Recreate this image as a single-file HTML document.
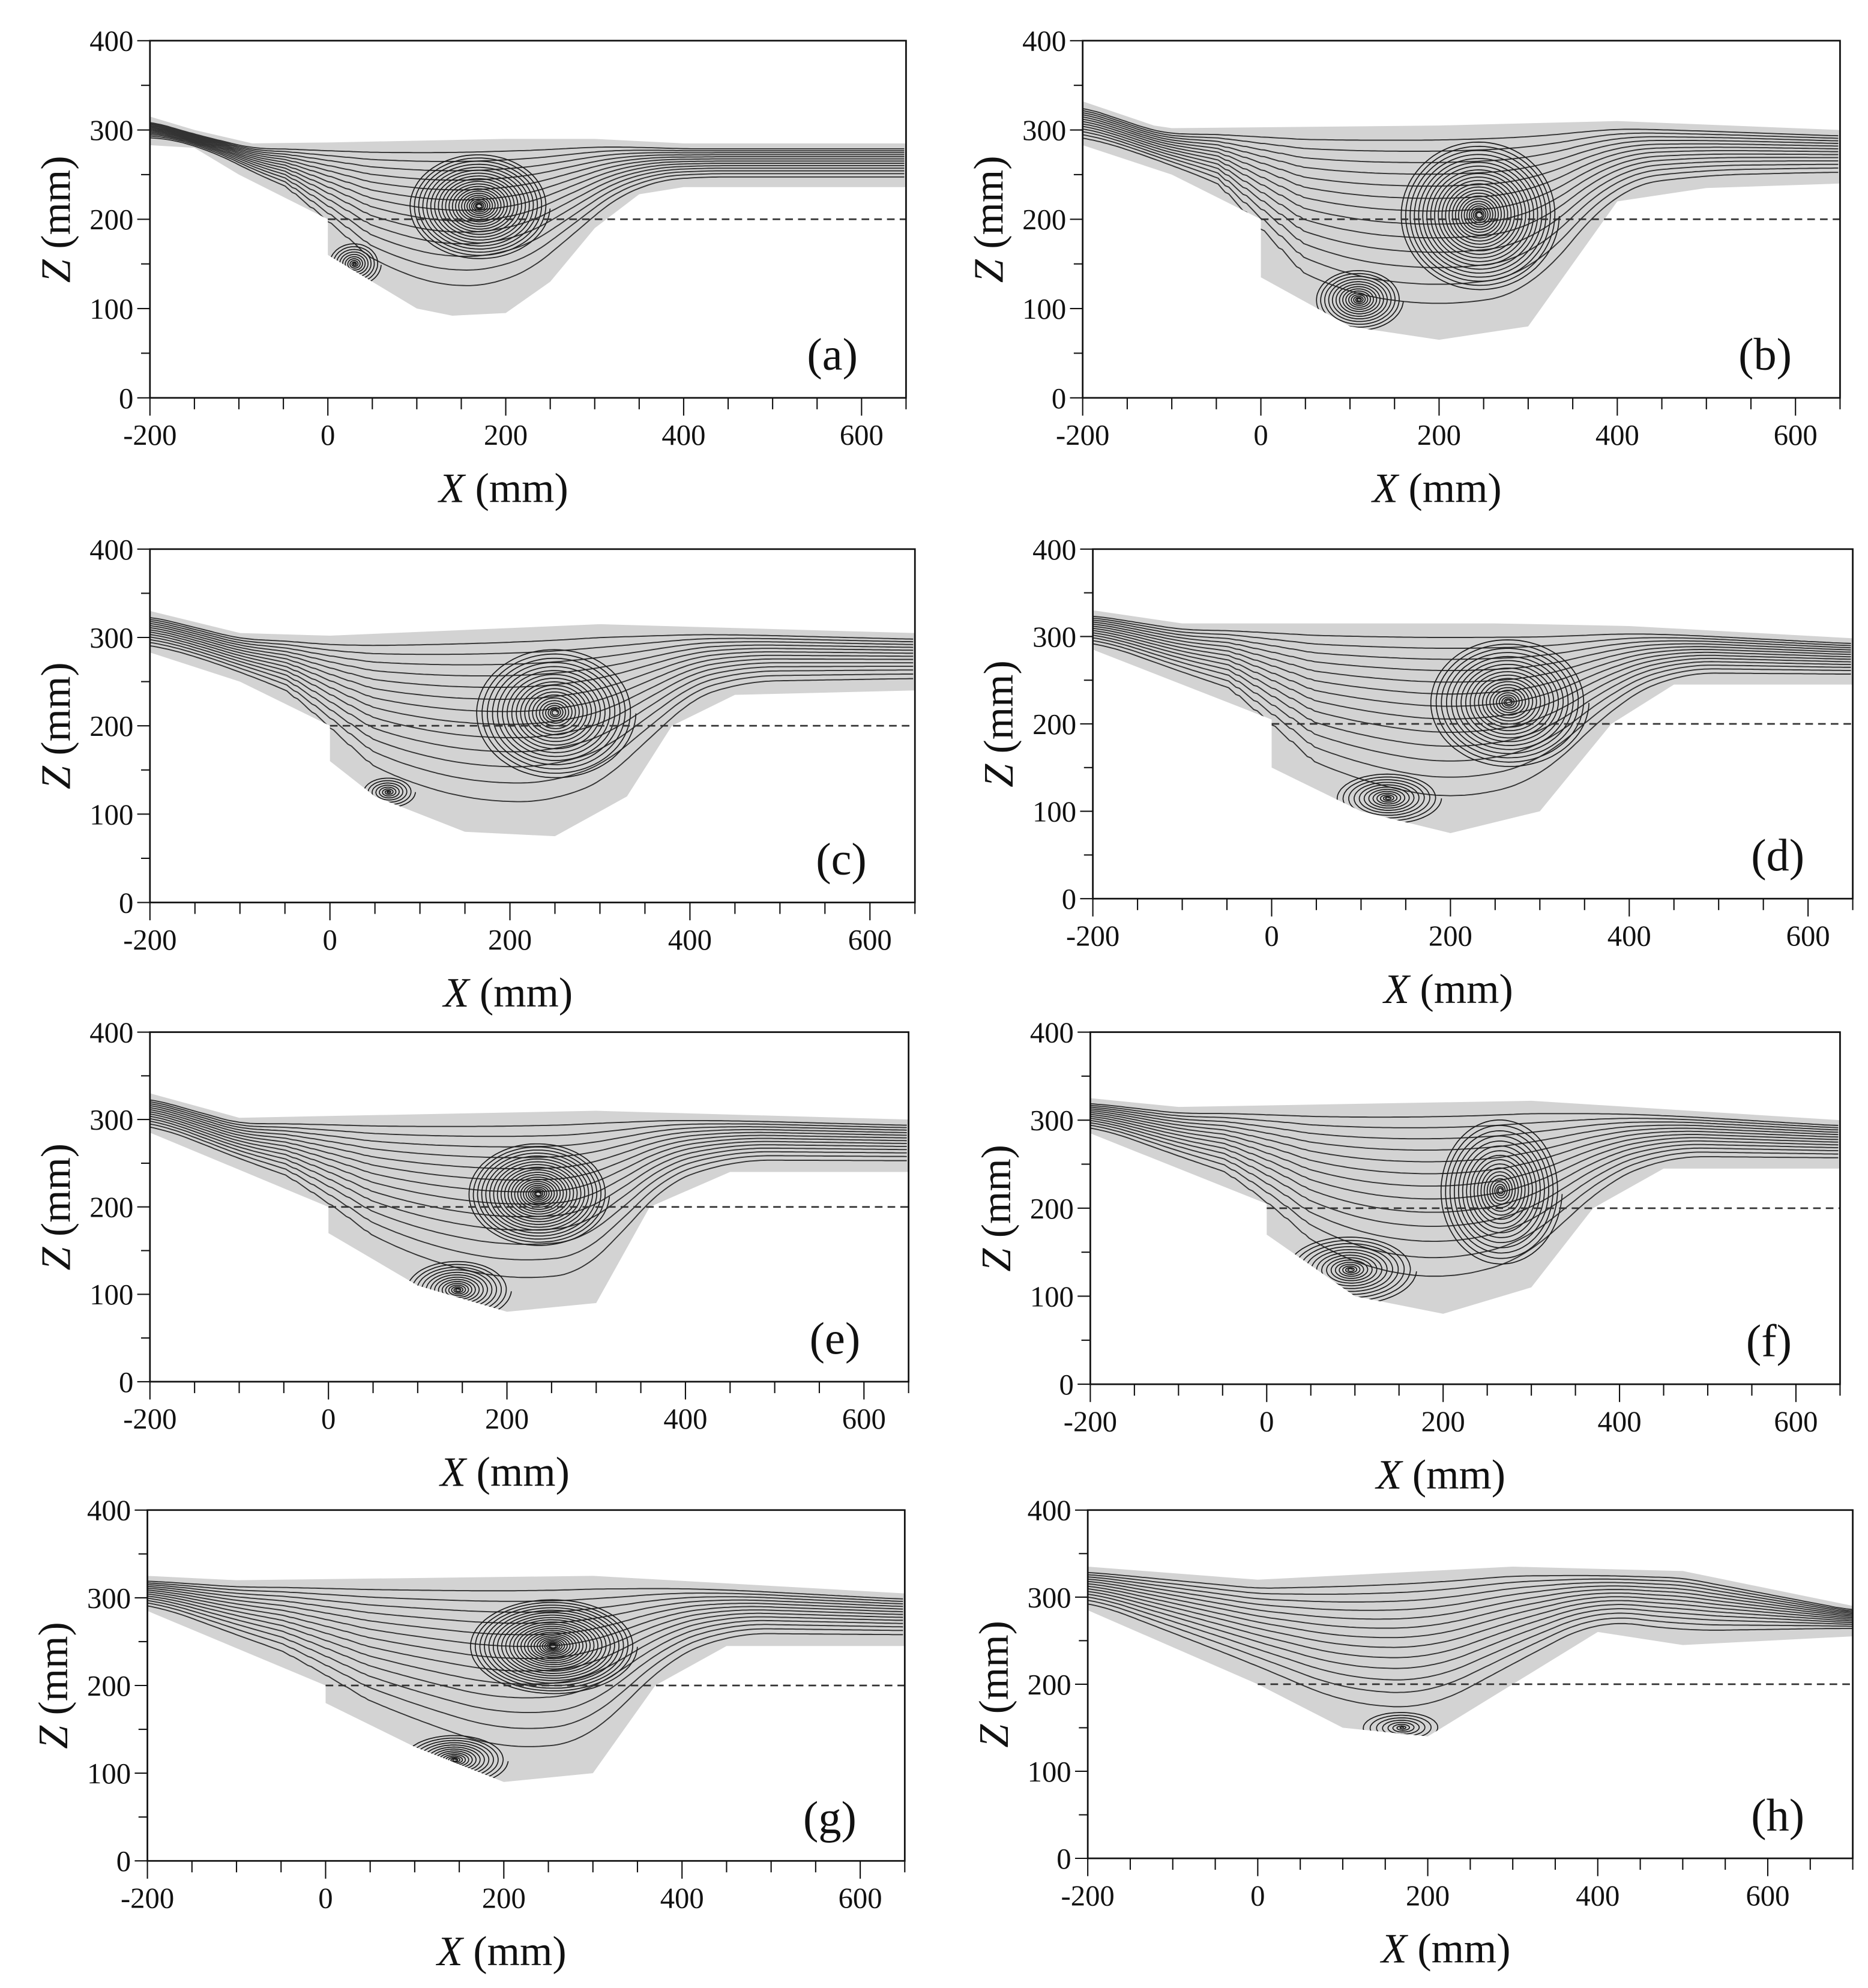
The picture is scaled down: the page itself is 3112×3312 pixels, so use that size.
<!DOCTYPE html>
<html><head><meta charset="utf-8">
<style>
html,body{margin:0;padding:0;background:#fff;}
svg{display:block;}
text{font-family:"Liberation Serif",serif;fill:#111;}
</style></head>
<body>
<svg id="fig" width="3112" height="3312" viewBox="0 0 1470 1564" preserveAspectRatio="none" xmlns="http://www.w3.org/2000/svg"></svg>
<script>
// Panel data (mm units)
const panelLabels = ["(a)","(b)","(c)","(d)","(e)","(f)","(g)","(h)"];
const xMaxes = [650,650,650,650,650,650,650,700];
const xTicks = [-200,0,200,400,600];
const yTicks = [0,100,200,300,400];
const topProfiles = [
 [[-200,315],[-150,300],[-85,285],[0,286],[200,290],[300,290],[400,285],[650,285]],
 [[-200,332],[-120,305],[-100,302],[200,305],[400,310],[650,300]],
 [[-200,330],[-100,305],[0,302],[300,315],[650,305]],
 [[-200,330],[-100,315],[250,315],[400,312],[650,298]],
 [[-200,330],[-100,302],[300,310],[650,300]],
 [[-200,325],[-100,315],[300,322],[650,300]],
 [[-200,325],[-100,320],[300,325],[650,305]],
 [[-200,335],[0,320],[300,335],[500,330],[700,290]]
];
const bottomProfiles = [
 [[-200,283],[-150,280],[-100,250],[-50,225],[0,200],[0,160],[50,130],[100,100],[140,92],[200,95],[250,130],[300,190],[350,228],[400,236],[650,236]],
 [[-200,283],[-100,250],[0,200],[0,135],[100,80],[200,65],[300,80],[350,150],[400,220],[500,235],[650,240]],
 [[-200,283],[-100,250],[0,200],[0,160],[50,120],[150,80],[250,75],[330,120],[380,200],[450,235],[650,240]],
 [[-200,285],[0,205],[0,150],[100,100],[200,75],[300,100],[380,200],[450,245],[650,245]],
 [[-200,285],[0,200],[0,170],[100,110],[200,80],[300,90],[360,200],[450,240],[650,240]],
 [[-200,285],[0,205],[0,170],[100,100],[200,80],[300,110],[370,200],[450,245],[650,245]],
 [[-200,285],[0,200],[0,180],[100,130],[200,90],[300,100],[370,200],[450,245],[650,245]],
 [[-200,285],[0,200],[100,150],[200,140],[300,200],[400,260],[500,245],[700,255]]
];
const vortices = [
 [[170,215,80,60,22],[30,150,30,25,10]],
 [[245,205,90,85,24],[110,110,50,35,14]],
 [[250,215,90,75,20],[65,125,30,18,8]],
 [[265,225,90,75,20],[130,115,60,30,12]],
 [[235,215,80,60,22],[145,105,60,35,14]],
 [[265,220,70,85,18],[95,130,75,40,14]],
 [[255,245,95,55,24],[145,115,60,30,14]],
 [[170,150,50,20,8]]
];
// layout (display units)
const boxes = [[118,32,713,313],[852,32,1448,313],[118,432,720,710],[860,432,1458,707],[118,812,715,1087],[858,812,1448,1089],[116,1188,712,1464],[856,1188,1458,1462]];
const NS="http://www.w3.org/2000/svg";
const svg=document.getElementById('fig');
function mk(tag,attrs,parent){const e=document.createElementNS(NS,tag);for(const k in attrs)e.setAttribute(k,attrs[k]);(parent||svg).appendChild(e);return e;}
function interp(prof,x){
  for(let i=prof.length-1;i>0;i--){const a=prof[i-1],b=prof[i];if(x>=a[0]&&x<=b[0]){if(b[0]===a[0])return b[1];return a[1]+(b[1]-a[1])*(x-a[0])/(b[0]-a[0]);}}
  return prof[prof.length-1][1];
}
function smooth(prof,x,w){let s=0,n=0;for(let d=-w;d<=w;d+=5){const xx=Math.min(Math.max(x+d,-200),prof[prof.length-1][0]);s+=interp(prof,xx);n++;}return s/n;}
boxes.forEach((bx,p)=>{
  const [L,T,R,B]=bx, xmax=xMaxes[p];
  const sx=x=>L+(x+200)/(xmax+200)*(R-L);
  const sy=z=>B-z/400*(B-T);
  const g=mk('g',{});
  
  
  const cid='clip'+p;
  const cp=mk('clipPath',{id:cid},g);
  const top=topProfiles[p], bot=bottomProfiles[p];
  let d='M'+top.map(q=>sx(q[0])+','+sy(q[1])).join(' L')+' L'+bot.slice().reverse().map(q=>sx(q[0])+','+sy(q[1])).join(' L')+'Z';
  mk('path',{d:d},cp);
  const reg=mk('path',{d:d,fill:'#d3d3d3',stroke:'none'},g);
  
  
  const pg=mk('g',{'clip-path':'url(#'+cid+')'},g);
  // through-flow streamlines
  const N=14;
  for(let k=1;k<N;k++){
    const f=k/N;let pts=[];
    for(let x=-200;x<=xmax;x+=4){
      const zt=smooth(top,x,20), zb=smooth(bot,x,45)+6;
      pts.push(sx(x).toFixed(1)+','+sy(zb+(zt-4-zb)*Math.pow(f,0.75)).toFixed(1));
    }
    const sl=mk('polyline',{points:pts.join(' '),fill:'none',stroke:'#333','stroke-width':0.9},pg);
    
    
  }
  // vortices
  vortices[p].forEach(v=>{
    const [cx,cz,rx,rz,n]=v;let pts=[];const tot=n*2*Math.PI;
    for(let t=0;t<=tot;t+=0.07){const s=0.03+0.97*Math.pow(t/tot,1.4);pts.push(sx(cx+rx*s*Math.cos(t)).toFixed(1)+','+sy(cz+rz*s*Math.sin(t)).toFixed(1));}
    const vs=mk('polyline',{points:pts.join(' '),fill:'none',stroke:'#1a1a1a','stroke-width':0.8},pg);
    
    
  });
  // dashed line z=200 from x=0
  const dl=mk('line',{x1:sx(0),y1:sy(200),x2:R,y2:sy(200),stroke:'#333','stroke-width':1.3,'stroke-dasharray':'6,4'},g);
  
  
  const fr=mk('rect',{x:L,y:T,width:R-L,height:B-T,fill:'none',stroke:'#111','stroke-width':1.3},g);
  
  
  for(let x=-200;x<=xmax;x+=50){
    const major=(x%200===0);
    mk('line',{x1:sx(x),y1:B,x2:sx(x),y2:B+(major?14:9),stroke:'#111','stroke-width':1},g);
  }
  xTicks.forEach(x=>{
    const t=mk('text',{x:sx(x),y:B+37,'text-anchor':'middle','font-size':23},g);t.textContent=x;
    
    
  });
  for(let z=0;z<=400;z+=50){
    mk('line',{x1:L-(z%100===0?10:7),y1:sy(z),x2:L,y2:sy(z),stroke:'#111','stroke-width':1},g);
  }
  yTicks.forEach(z=>{
    const t=mk('text',{x:L-13,y:sy(z)+8,'text-anchor':'end','font-size':23},g);t.textContent=z;
    
    
  });
  const xl=mk('text',{x:(L+R)/2-70,y:B+82,'text-anchor':'start','font-size':33},g);
  xl.innerHTML='<tspan font-style="italic">X</tspan> (mm)';
  
  
  const cyM=(T+B)/2;
  const yl=mk('text',{x:L-75,y:cyM,'text-anchor':'middle','font-size':33,transform:'rotate(-90 '+(L-75)+' '+cyM+')',dy:12},g);
  yl.innerHTML='<tspan font-style="italic">Z</tspan> (mm)';
  
  
  const pl=mk('text',{x:R-38,y:B-22,'text-anchor':'end','font-size':36},g);pl.textContent=panelLabels[p];
  
  
});
</script>
</body></html>
